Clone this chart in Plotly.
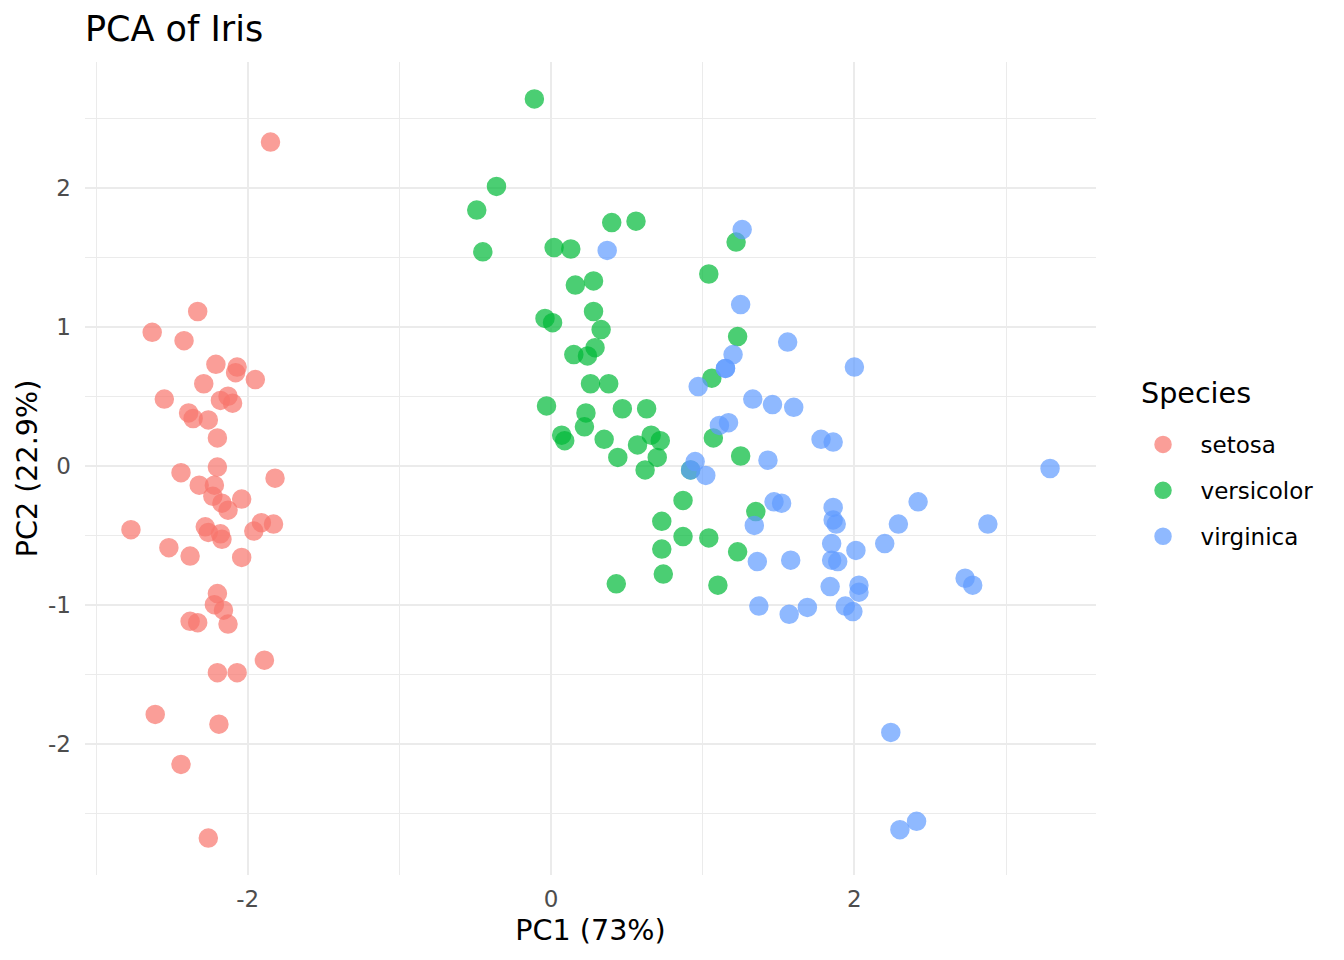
import plotly.graph_objects as go

# PCA scores
species = ['setosa', 'versicolor', 'virginica']
colors = ['#F8766D', '#00BA38', '#619CFF']

setosa_pc1 = [-1.85, -2.33, -2.63, -2.42, -2.21, -2.07, -2.08, -1.95, -2.29, -2.55,
              -2.13, -2.18, -2.10, -2.39, -2.36, -2.26, -2.20, -2.20, -2.44, -1.82,
              -2.32, -2.22, -2.23, -2.04, -2.17, -2.13, -2.77, -2.28, -1.91, -1.83,
              -1.96, -2.26, -2.18, -2.17, -2.52, -2.38, -2.04, -2.20, -2.22, -2.16,
              -2.38, -2.33, -2.13, -1.89, -2.20, -2.07, -2.61, -2.19, -2.44, -2.26]
setosa_pc2 = [2.33, 1.11, 0.96, 0.90, 0.73, 0.71, 0.67, 0.62, 0.59, 0.48,
              0.50, 0.47, 0.45, 0.38, 0.34, 0.33, 0.20, -0.01, -0.05, -0.09,
              -0.14, -0.14, -0.22, -0.24, -0.27, -0.32, -0.46, -0.44, -0.41, -0.42,
              -0.47, -0.48, -0.49, -0.53, -0.59, -0.65, -0.66, -0.92, -1.00, -1.04,
              -1.12, -1.13, -1.14, -1.40, -1.49, -1.49, -1.79, -1.86, -2.15, -2.68]

versicolor_pc1 = [-0.11, -0.36, -0.49, -0.45, 0.40, 0.56, 0.02, 0.13, 0.16, 0.28,
                  0.28, -0.04, 0.01, 0.33, 0.29, 0.15, 0.24, 0.26, 0.38, -0.03,
                  0.23, 0.47, 0.63, 0.22, 0.07, 0.09, 0.35, 0.66, 0.72, 0.57,
                  0.44, 0.70, 0.62, 0.87, 0.73, 0.87, 1.04, 0.73, 1.23, 0.74,
                  0.43, 1.10, 1.23, 1.06, 1.07, 1.25, 0.92, 1.35, 1.22, 1.04]
versicolor_pc2 = [2.64, 2.01, 1.84, 1.54, 1.75, 1.76, 1.57, 1.56, 1.30, 1.33,
                  1.11, 1.06, 1.03, 0.98, 0.85, 0.80, 0.79, 0.59, 0.59, 0.43,
                  0.38, 0.41, 0.41, 0.28, 0.22, 0.18, 0.19, 0.22, 0.18, 0.15,
                  0.06, 0.06, -0.03, -0.25, -0.40, -0.51, -0.52, -0.60, -0.62, -0.78,
                  -0.85, -0.86, 0.93, 0.63, 0.20, 0.07, -0.03, -0.33, 1.61, 1.38]

virginica_pc1 = [0.37, 1.26, 1.25, 1.56, 1.20, 1.15, 1.15, 0.97, 2.00, 1.33,
                 1.46, 1.60, 1.11, 1.17, 1.78, 1.86, 1.43, 0.95, 0.92, 1.02,
                 1.47, 1.52, 1.34, 1.86, 1.86, 1.88, 2.42, 2.29, 2.20, 1.85,
                 2.01, 1.36, 1.58, 1.85, 1.89, 1.84, 2.03, 2.03, 1.37, 1.57,
                 1.69, 1.94, 1.99, 3.29, 2.88, 2.73, 2.78, 2.24, 2.30, 2.41]
virginica_pc2 = [1.55, 1.70, 1.16, 0.89, 0.80, 0.70, 0.70, 0.57, 0.71, 0.48,
                 0.44, 0.42, 0.29, 0.31, 0.19, 0.17, 0.04, 0.03, -0.03, -0.07,
                 -0.26, -0.27, -0.43, -0.30, -0.39, -0.42, -0.26, -0.42, -0.56, -0.56,
                 -0.61, -0.69, -0.68, -0.68, -0.69, -0.87, -0.86, -0.91, -1.01, -1.07,
                 -1.02, -1.01, -1.05, -0.02, -0.42, -0.81, -0.86, -1.92, -2.62, -2.56]

pc1 = [setosa_pc1, versicolor_pc1, virginica_pc1]
pc2 = [setosa_pc2, versicolor_pc2, virginica_pc2]

x_ticks = [-2, 0, 2]
y_ticks = [-2, -1, 0, 1, 2]

font = 'DejaVu Sans'
grid = '#EBEBEB'

fig = go.Figure()
for name, col, xs, ys in zip(species, colors, pc1, pc2):
    fig.add_trace(go.Scatter(
        x=xs, y=ys, mode='markers', name=name, legendgroup=name,
        marker=dict(size=18, color=col, opacity=0.7,
                    line=dict(color=col, width=1.5)),
    ))

# ggplot style 5% expansion of the data range
all_x = sum(pc1, [])
all_y = sum(pc2, [])
dx = (max(all_x) - min(all_x)) * 0.05
dy = (max(all_y) - min(all_y)) * 0.05

fig.update_layout(
    width=1344, height=960,
    margin=dict(l=85, r=248, t=62, b=85, autoexpand=False),
    paper_bgcolor='white', plot_bgcolor='white',
    font=dict(family=font, color='black'),
    title=dict(text='PCA of Iris', x=0, xref='paper', xanchor='left',
               y=1 - 29 / 960, yref='container', yanchor='middle',
               font=dict(size=35, color='black')),
    xaxis=dict(
        range=[min(all_x) - dx, max(all_x) + dx],
        tickvals=x_ticks, ticktext=[str(v) for v in x_ticks],
        showgrid=True, gridcolor=grid, gridwidth=2.2,
        minor=dict(tickvals=[-3, -1, 1, 3], showgrid=True, gridcolor=grid, gridwidth=1.1),
        zeroline=False, showline=False, ticks='', automargin=False,
        ticklabelstandoff=8,
        tickfont=dict(size=23, color='#4D4D4D'),
        title=dict(text='PC1 (73%)', font=dict(size=28.6, color='black'), standoff=8),
    ),
    yaxis=dict(
        range=[min(all_y) - dy, max(all_y) + dy],
        tickvals=y_ticks, ticktext=[str(v) for v in y_ticks],
        showgrid=True, gridcolor=grid, gridwidth=2.2,
        minor=dict(tickvals=[-2.5, -1.5, -0.5, 0.5, 1.5, 2.5], showgrid=True,
                   gridcolor=grid, gridwidth=1.1),
        zeroline=False, showline=False, ticks='', automargin=False,
        ticklabelstandoff=13,
        tickfont=dict(size=23, color='#4D4D4D'),
        title=dict(text='PC2 (22.9%)', font=dict(size=28.6, color='black'), standoff=2),
    ),
    legend=dict(
        font=dict(size=23, color='black'),
        x=1.0292, xanchor='left', y=0.556, yanchor='top',
        tracegroupgap=13, itemsizing='trace', itemwidth=65,
        bgcolor='rgba(0,0,0,0)',
    ),
    annotations=[dict(
        text='Species', xref='paper', yref='paper', x=1.0425, y=0.593,
        xanchor='left', yanchor='middle', showarrow=False,
        font=dict(size=28.6, color='black'),
    )],
)

fig.write_html('out.html', config={'displayModeBar': False},
               post_script="document.body.style.margin='0px';")
